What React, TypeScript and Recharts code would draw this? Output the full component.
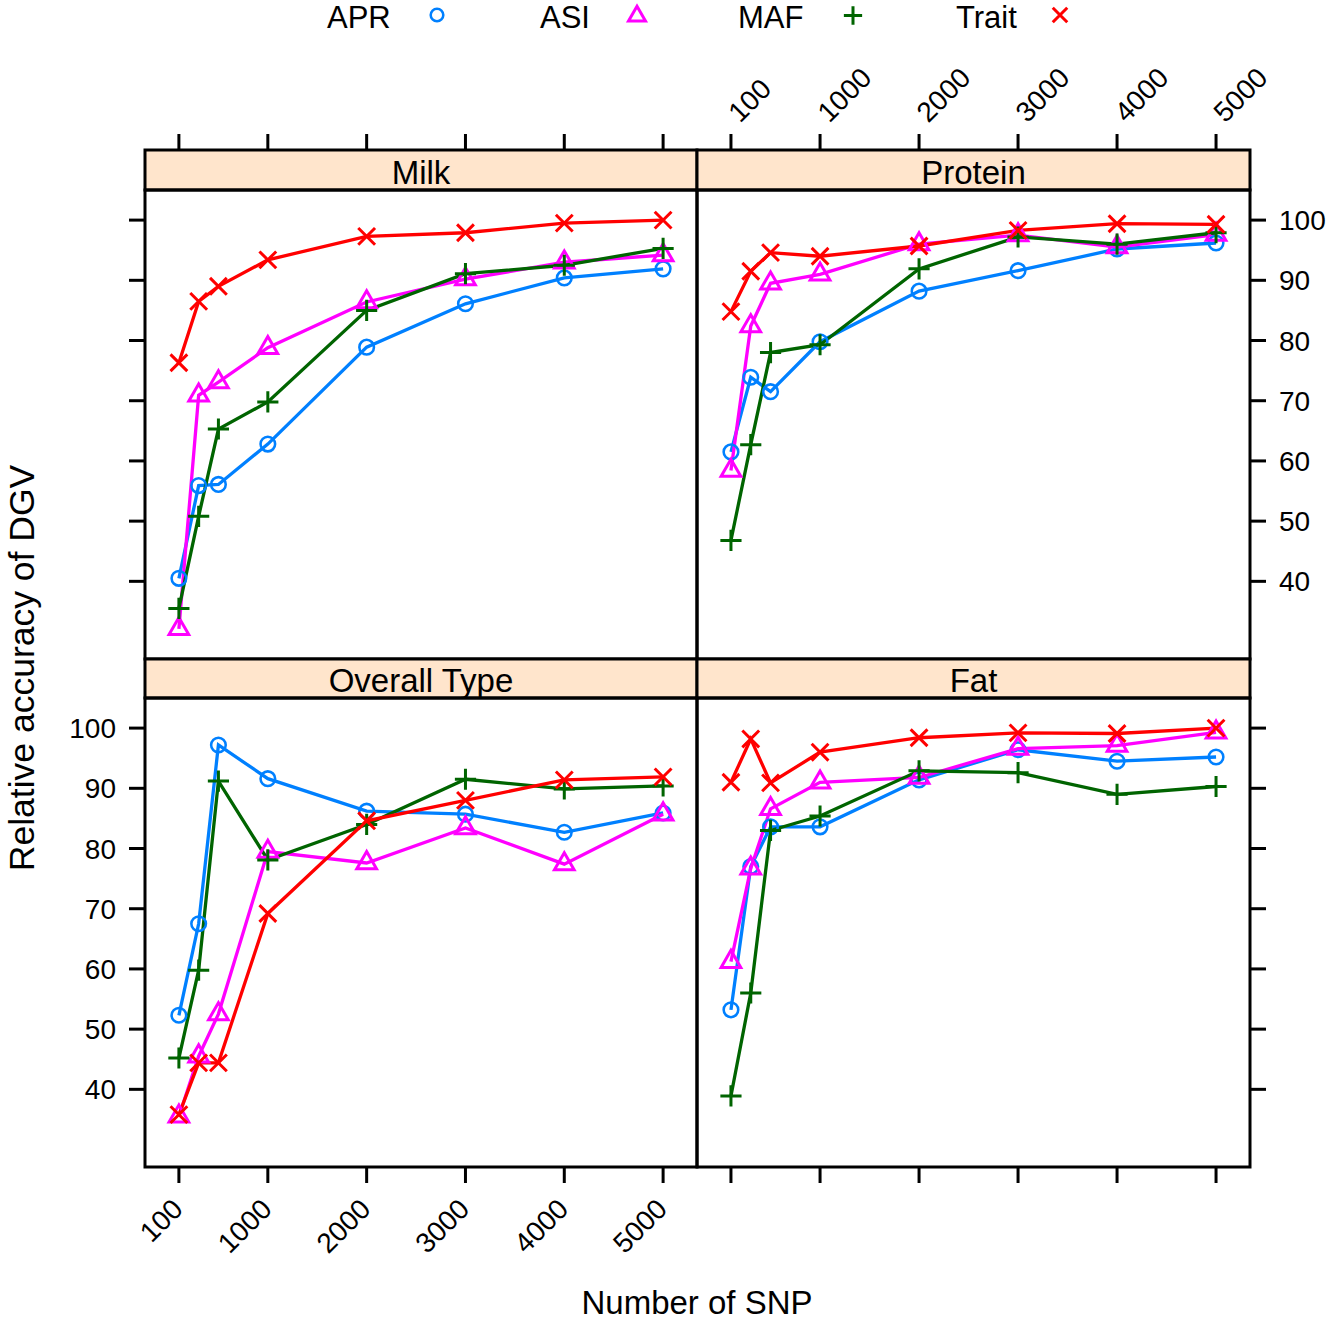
import React from "react";
import { LineChart, Line, XAxis, YAxis } from "recharts";

const W = 1328;
const H = 1325;
const FONT = '"Liberation Sans", Arial, Helvetica, sans-serif';

// x values (number of SNP) and tick labels
const SNP = [100, 300, 500, 1000, 2000, 3000, 4000, 5000];
const X_TICKS = [100, 1000, 2000, 3000, 4000, 5000];
const Y_TICKS = [40, 50, 60, 70, 80, 90, 100];
const X_DOMAIN = [-243, 5343];
const Y_DOMAIN = [27.1, 105.0];

const MILK_APR = [40.5, 55.9, 56.1, 62.8, 78.9, 86.1, 90.4, 91.9];
const MILK_ASI = [32.1, 70.9, 73.1, 78.8, 86.4, 90.2, 93.0, 94.2];
const MILK_MAF = [35.5, 50.8, 65.3, 69.8, 85.0, 91.1, 92.5, 95.3];
const MILK_TRAIT = [76.3, 86.5, 89.0, 93.4, 97.3, 97.9, 99.5, 100.0];

const PROTEIN_APR = [61.5, 73.9, 71.5, 79.8, 88.2, 91.6, 95.2, 96.2];
const PROTEIN_ASI = [58.4, 82.4, 89.5, 91.0, 96.0, 97.5, 95.5, 97.6];
const PROTEIN_MAF = [46.8, 62.7, 78.0, 79.3, 91.9, 97.2, 96.0, 97.9];
const PROTEIN_TRAIT = [84.8, 91.5, 94.6, 94.0, 95.7, 98.3, 99.4, 99.3];

const TYPE_APR = [52.3, 67.5, 97.2, 91.6, 86.2, 85.7, 82.7, 85.9];
const TYPE_ASI = [35.5, 45.5, 52.5, 79.5, 77.6, 83.4, 77.4, 85.7];
const TYPE_MAF = [45.2, 59.8, 91.2, 78.1, 84.0, 91.5, 89.9, 90.4];
const TYPE_TRAIT = [35.8, 44.4, 44.4, 69.2, 84.6, 88.0, 91.4, 91.9];

const FAT_APR = [53.2, 77.0, 83.6, 83.6, 91.4, 96.4, 94.5, 95.2];
const FAT_ASI = [61.2, 76.7, 86.6, 91.0, 91.8, 96.6, 97.1, 99.3];
const FAT_MAF = [38.9, 56.0, 83.0, 85.4, 92.9, 92.6, 89.0, 90.3];
const FAT_TRAIT = [91.0, 98.2, 90.9, 96.0, 98.4, 99.2, 99.1, 100.0];

const SERIES = [
  { key: "APR", color: "#0080ff", shape: "circle" },
  { key: "ASI", color: "#ff00ff", shape: "triangle" },
  { key: "MAF", color: "#006400", shape: "plus" },
  { key: "Trait", color: "#ff0000", shape: "cross" },
];

function table(apr: number[], asi: number[], maf: number[], trait: number[]) {
  return SNP.map((snp, i) => ({ snp, APR: apr[i], ASI: asi[i], MAF: maf[i], Trait: trait[i] }));
}

// panel frames: [left, right] columns, [stripTop, plotTop, plotBottom] rows
const COLS = [
  [145, 697],
  [697, 1250],
];
const ROWS = [
  [150, 190, 659],
  [659, 698, 1167],
];

const PANELS = [
  { name: "Milk", data: table(MILK_APR, MILK_ASI, MILK_MAF, MILK_TRAIT), col: 0, row: 0, x: "top", xLab: false, y: "left", yLab: false },
  { name: "Protein", data: table(PROTEIN_APR, PROTEIN_ASI, PROTEIN_MAF, PROTEIN_TRAIT), col: 1, row: 0, x: "top", xLab: true, y: "right", yLab: true },
  { name: "Overall Type", data: table(TYPE_APR, TYPE_ASI, TYPE_MAF, TYPE_TRAIT), col: 0, row: 1, x: "bottom", xLab: true, y: "left", yLab: true },
  { name: "Fat", data: table(FAT_APR, FAT_ASI, FAT_MAF, FAT_TRAIT), col: 1, row: 1, x: "bottom", xLab: false, y: "right", yLab: false },
];

function Marker({ cx, cy, shape, color, r, sw = 3 }: any) {
  if (shape === "circle") {
    return <circle cx={cx} cy={cy} r={r} fill="none" stroke={color} strokeWidth={sw * 0.85} />;
  }
  if (shape === "triangle") {
    const a = 1.555 * r, b = 0.778 * r, h = 1.347 * r;
    return (
      <polygon
        points={`${cx},${cy - a} ${cx + h},${cy + b} ${cx - h},${cy + b}`}
        fill="none"
        stroke={color}
        strokeWidth={sw}
      />
    );
  }
  if (shape === "plus") {
    const d = 1.45 * r;
    return <path d={`M${cx - d},${cy}H${cx + d}M${cx},${cy - d}V${cy + d}`} stroke={color} strokeWidth={sw} />;
  }
  const c = 1.15 * r;
  return (
    <path
      d={`M${cx - c},${cy - c}L${cx + c},${cy + c}M${cx + c},${cy - c}L${cx - c},${cy + c}`}
      stroke={color}
      strokeWidth={sw}
    />
  );
}

const TICK_FONT = 28;

function XTick({ x, y, payload, side, labels }: any) {
  if (side === "top") {
    const base = y - 40;
    return (
      <g>
        <line x1={x} x2={x} y1={base} y2={base - 16} stroke="#000" strokeWidth={3} />
        {labels && (
          <text
            transform={`translate(${x + 2},${y - 73.5}) rotate(-45)`}
            textAnchor="start"
            dy="0.36em"
            fontSize={TICK_FONT}
            fontFamily={FONT}
            fill="#000"
          >
            {payload.value}
          </text>
        )}
      </g>
    );
  }
  return (
    <g>
      <line x1={x} x2={x} y1={y} y2={y + 16} stroke="#000" strokeWidth={3} />
      {labels && (
        <text
          transform={`translate(${x - 1.5},${y + 36.5}) rotate(-45)`}
          textAnchor="end"
          dy="0.36em"
          fontSize={TICK_FONT}
          fontFamily={FONT}
          fill="#000"
        >
          {payload.value}
        </text>
      )}
    </g>
  );
}

function YTick({ x, y, payload, side, labels }: any) {
  const s = side === "left" ? -1 : 1;
  return (
    <g>
      <line x1={x} x2={x + s * 16} y1={y} y2={y} stroke="#000" strokeWidth={3} />
      {labels && (
        <text
          x={x + s * 29}
          y={y}
          dy="0.36em"
          textAnchor={side === "left" ? "end" : "start"}
          fontSize={TICK_FONT}
          fontFamily={FONT}
          fill="#000"
        >
          {payload.value}
        </text>
      )}
    </g>
  );
}

function Panel({ p }: any) {
  const [left, right] = COLS[p.col];
  const [, top, bottom] = ROWS[p.row];
  const margin = {
    left: p.y === "left" ? left - 20 : left,
    right: p.y === "right" ? W - right - 20 : W - right,
    top: p.x === "top" ? top - 20 : top,
    bottom: p.x === "bottom" ? H - bottom - 20 : H - bottom,
  };
  return (
    <div style={{ position: "absolute", left: 0, top: 0 }}>
      <LineChart width={W} height={H} data={p.data} margin={margin}>
        <XAxis
          dataKey="snp"
          type="number"
          domain={X_DOMAIN}
          ticks={X_TICKS}
          interval={0}
          orientation={p.x}
          height={20}
          axisLine={false}
          tickLine={false}
          tickSize={0}
          tickMargin={0}
          allowDataOverflow
          tick={(props: any) => <XTick {...props} side={p.x} labels={p.xLab} />}
        />
        <YAxis
          type="number"
          domain={Y_DOMAIN}
          ticks={Y_TICKS}
          interval={0}
          orientation={p.y}
          width={20}
          axisLine={false}
          tickLine={false}
          tickSize={0}
          tickMargin={0}
          allowDataOverflow
          tick={(props: any) => <YTick {...props} side={p.y} labels={p.yLab} />}
        />
        {SERIES.map((s) => (
          <Line
            key={s.key}
            dataKey={s.key}
            type="linear"
            stroke={s.color}
            strokeWidth={3.3}
            isAnimationActive={false}
            activeDot={false}
            dot={(d: any) => (
              <Marker key={`${s.key}-${d.index}`} cx={d.cx} cy={d.cy} shape={s.shape} color={s.color} r={7.3} />
            )}
          />
        ))}
      </LineChart>
    </div>
  );
}

const LEGEND_POS = [
  { text: 327, sym: 437, sy: 15 },
  { text: 540, sym: 637, sy: 16 },
  { text: 738, sym: 853, sy: 15.5 },
  { text: 956, sym: 1060, sy: 15 },
];

function Frame() {
  return (
    <svg width={W} height={H} style={{ position: "absolute", left: 0, top: 0 }} fontFamily={FONT}>
      {PANELS.map((p) => {
        const [left, right] = COLS[p.col];
        const [stripTop, top, bottom] = ROWS[p.row];
        return (
          <g key={p.name}>
            <rect x={left} y={stripTop} width={right - left} height={top - stripTop} fill="#ffe5cc" stroke="#000" strokeWidth={3} />
            <text x={(left + right) / 2} y={top - 6.5} textAnchor="middle" fontSize={33} fill="#000">
              {p.name}
            </text>
            <rect x={left} y={top} width={right - left} height={bottom - top} fill="none" stroke="#000" strokeWidth={3} />
          </g>
        );
      })}
      {SERIES.map((s, i) => (
        <g key={s.key}>
          <text x={LEGEND_POS[i].text} y={28} fontSize={31} fill="#000">
            {s.key}
          </text>
          <Marker cx={LEGEND_POS[i].sym} cy={LEGEND_POS[i].sy} shape={s.shape} color={s.color} r={6.3} />
        </g>
      ))}
      <text x={697} y={1314} textAnchor="middle" fontSize={33} fill="#000">
        Number of SNP
      </text>
      <text transform="translate(34,668) rotate(-90)" textAnchor="middle" fontSize={35.5} fill="#000">
        Relative accuracy of DGV
      </text>
    </svg>
  );
}

export default function App() {
  return (
    <div style={{ position: "relative", width: W, height: H, background: "#fff" }}>
      <style>{"body{margin:0}"}</style>
      <Frame />
      {PANELS.map((p) => (
        <Panel key={p.name} p={p} />
      ))}
    </div>
  );
}
